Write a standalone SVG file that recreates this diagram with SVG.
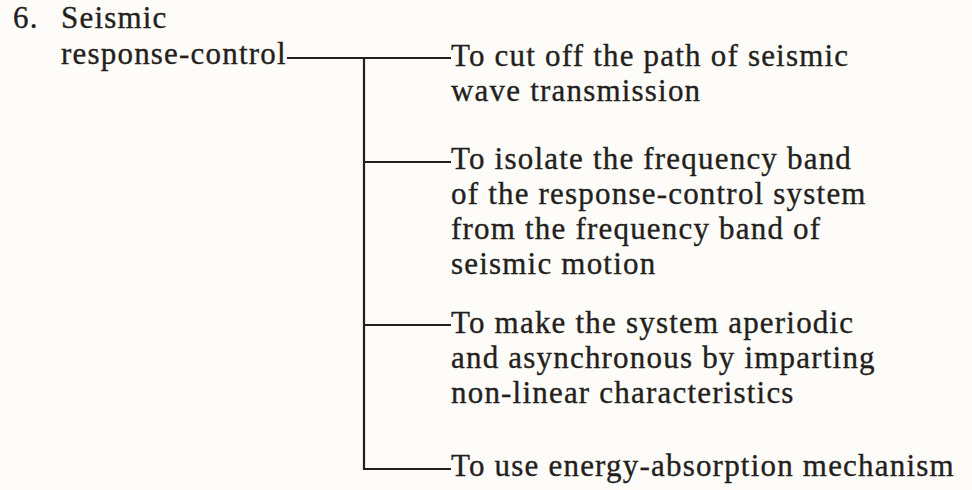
<svg xmlns="http://www.w3.org/2000/svg" width="972" height="490" viewBox="0 0 972 490">
<style>
text{font-family:"Liberation Serif","Times New Roman",serif;font-size:31px;letter-spacing:1.2px;fill:#241f1c;stroke:#241f1c;stroke-width:0.35}
.c{stroke:#241f1c;stroke-width:2.2;fill:none}
</style>
<rect width="972" height="490" fill="#fdfcf8"/>
<g id="root">
<text x="13" y="28">6.</text>
<text x="61" y="28">Seismic</text>
<text x="61" y="64">response-control</text>
</g>
<g id="connectors">
<path class="c" d="M287 58H451"/>
<path class="c" d="M364 58V469H451"/>
<path class="c" d="M364 162H451"/>
<path class="c" d="M364 325H451"/>
</g>
<g id="n1">
<text x="451" y="66">To cut off the path of seismic</text>
<text x="451" y="101">wave transmission</text>
</g>
<g id="n2">
<text x="451" y="169">To isolate the frequency band</text>
<text x="451" y="204">of the response-control system</text>
<text x="451" y="239">from the frequency band of</text>
<text x="451" y="274">seismic motion</text>
</g>
<g id="n3">
<text x="451" y="333">To make the system aperiodic</text>
<text x="451" y="368">and asynchronous by imparting</text>
<text x="451" y="403">non-linear characteristics</text>
</g>
<g id="n4">
<text x="451" y="476">To use energy-absorption mechanism</text>
</g>
</svg>
